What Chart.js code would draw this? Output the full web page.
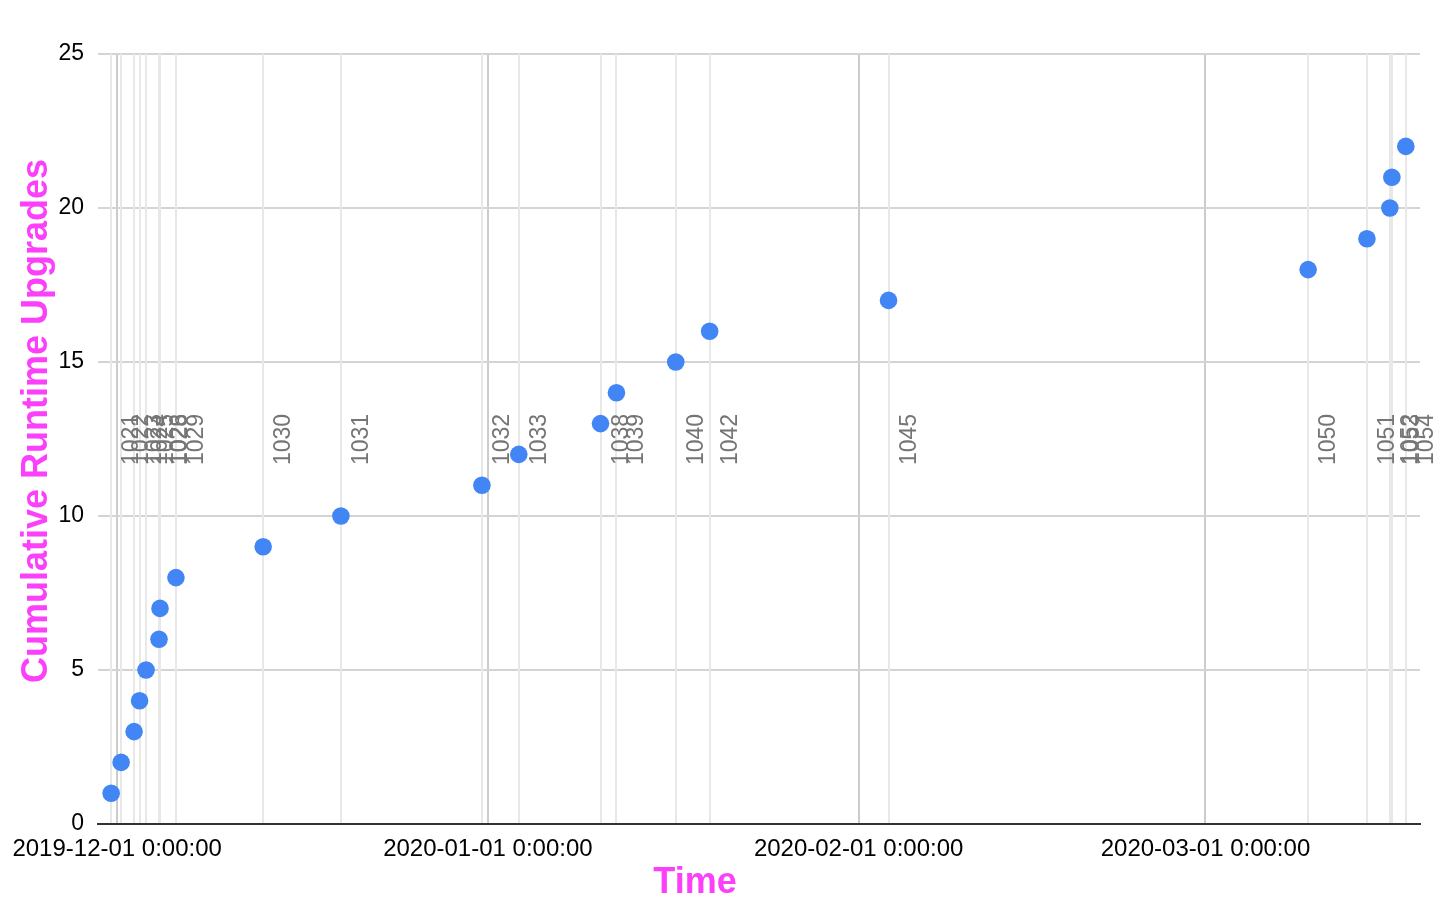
<!DOCTYPE html>
<html>
<head>
<meta charset="utf-8">
<script src="https://cdn.jsdelivr.net/npm/chart.js@4.4.1/dist/chart.umd.min.js"></script>
<style>
body{margin:0;background:#fff}
#wrap{width:1456px;height:903px}
</style>
</head>
<body>
<div id="wrap"><canvas id="chart" width="1456" height="903"></canvas></div>
<script>
// release times (UTC), cumulative count and runtime version for each upgrade
const upgradeTimes = ['2019-11-30T12:00','2019-12-01T08:00','2019-12-02T10:00','2019-12-02T21:00','2019-12-03T10:00',
  '2019-12-04T12:00','2019-12-04T14:00','2019-12-05T22:00','2019-12-13T05:00','2019-12-19T17:00',
  '2019-12-31T12:00','2020-01-03T14:00','2020-01-10T10:00','2020-01-11T18:00','2020-01-16T17:00',
  '2020-01-19T13:00','2020-02-03T12:00','2020-03-09T14:00','2020-03-14T12:00','2020-03-16T10:00',
  '2020-03-16T14:00','2020-03-17T18:00']
const upgradeCounts = [1,2,3,4,5,6,7,8,9,10,11,12,13,14,15,16,17,18,19,20,21,22]
const runtimeVersions = ['1021','1022','1023','1024','1025','1026','1028','1029','1030','1031',
  '1032','1033','1038','1039','1040','1042','1045','1050','1051','1052','1053','1054']
const monthTicks = ['2019-12-01','2020-01-01','2020-02-01','2020-03-01']
const monthLabels = ['2019-12-01 0:00:00','2020-01-01 0:00:00','2020-02-01 0:00:00','2020-03-01 0:00:00']
const xRange = ['2019-11-29T09:50','2020-03-18T22:30']

const origin = Date.UTC(2019,11,1)
function toDays(s){
    if(s.length==10) s = s + 'T00:00'
    return (new Date(s + ':00Z').getTime() - origin) / 86400000
}
const tickDays = monthTicks.map(toDays)
const points = upgradeTimes.map((t,i) => ({x: toDays(t), y: upgradeCounts[i]}))

const FONT = "Arial, 'Liberation Sans', sans-serif"
const MAGENTA = '#fb3ffb'

// vertical annotation lines with rotated version labels
const annotations = {
    id: 'annotations',
    beforeDatasetsDraw(chart){
        const {ctx, chartArea, scales:{x}} = chart
        ctx.save()
        ctx.strokeStyle = '#e8e8e8'
        ctx.lineWidth = 2
        points.forEach(p => {
            const px = Math.round(x.getPixelForValue(p.x))
            ctx.beginPath()
            ctx.moveTo(px, chartArea.top)
            ctx.lineTo(px, chartArea.bottom - 1)
            ctx.stroke()
        })
        ctx.fillStyle = '#757575'
        ctx.font = '23px ' + FONT
        ctx.textAlign = 'left'
        ctx.textBaseline = 'alphabetic'
        points.forEach((p,i) => {
            const px = x.getPixelForValue(p.x)
            ctx.save()
            ctx.translate(px + 27, 465)
            ctx.rotate(-Math.PI/2)
            ctx.fillText(runtimeVersions[i], 0, 0)
            ctx.restore()
        })
        ctx.restore()
    }
}

const axisTitles = {
    id: 'axisTitles',
    afterDraw(chart){
        const ctx = chart.ctx
        ctx.save()
        ctx.fillStyle = MAGENTA
        ctx.font = 'bold 36px ' + FONT
        ctx.textAlign = 'center'
        ctx.textBaseline = 'alphabetic'
        ctx.fillText('Time', 695, 893)
        ctx.translate(47, 421)
        ctx.rotate(-Math.PI/2)
        ctx.fillText('Cumulative Runtime Upgrades', 0, 0)
        ctx.restore()
    }
}

new Chart(document.getElementById('chart'), {
    type: 'scatter',
    data: {
        datasets: [{
            data: points,
            backgroundColor: '#4285f4',
            borderWidth: 0,
            pointRadius: 8.8,
            pointHoverRadius: 8.8
        }]
    },
    options: {
        responsive: false,
        animation: false,
        layout: {padding: {top: 54, right: 36, left: 0, bottom: 0}},
        plugins: {legend: {display: false}, tooltip: {enabled: false}},
        scales: {
            x: {
                type: 'linear',
                min: toDays(xRange[0]),
                max: toDays(xRange[1]),
                afterBuildTicks: axis => { axis.ticks = tickDays.map(v => ({value: v})) },
                afterFit: s => { s.height = 79 },
                grid: {color: '#cccccc', lineWidth: 2, drawTicks: false},
                border: {display: true, color: '#333333', width: 2},
                ticks: {
                    autoSkip: false,
                    maxRotation: 0,
                    padding: 11,
                    color: '#000',
                    font: {size: 24, family: FONT},
                    callback: v => {
                        const i = tickDays.findIndex(d => Math.abs(d - v) < 0.01)
                        return i >= 0 ? monthLabels[i] : ''
                    }
                }
            },
            y: {
                min: 0,
                max: 25,
                afterFit: s => { s.width = 97 },
                grid: {
                    color: c => c.tick && c.tick.value === 0 ? '#333333' : '#d4d4d4',
                    lineWidth: 2,
                    drawTicks: false
                },
                border: {display: false},
                ticks: {stepSize: 5, padding: 14, color: '#000', font: {size: 23, family: FONT}}
            }
        }
    },
    plugins: [annotations, axisTitles]
})
</script>
</body>
</html>
